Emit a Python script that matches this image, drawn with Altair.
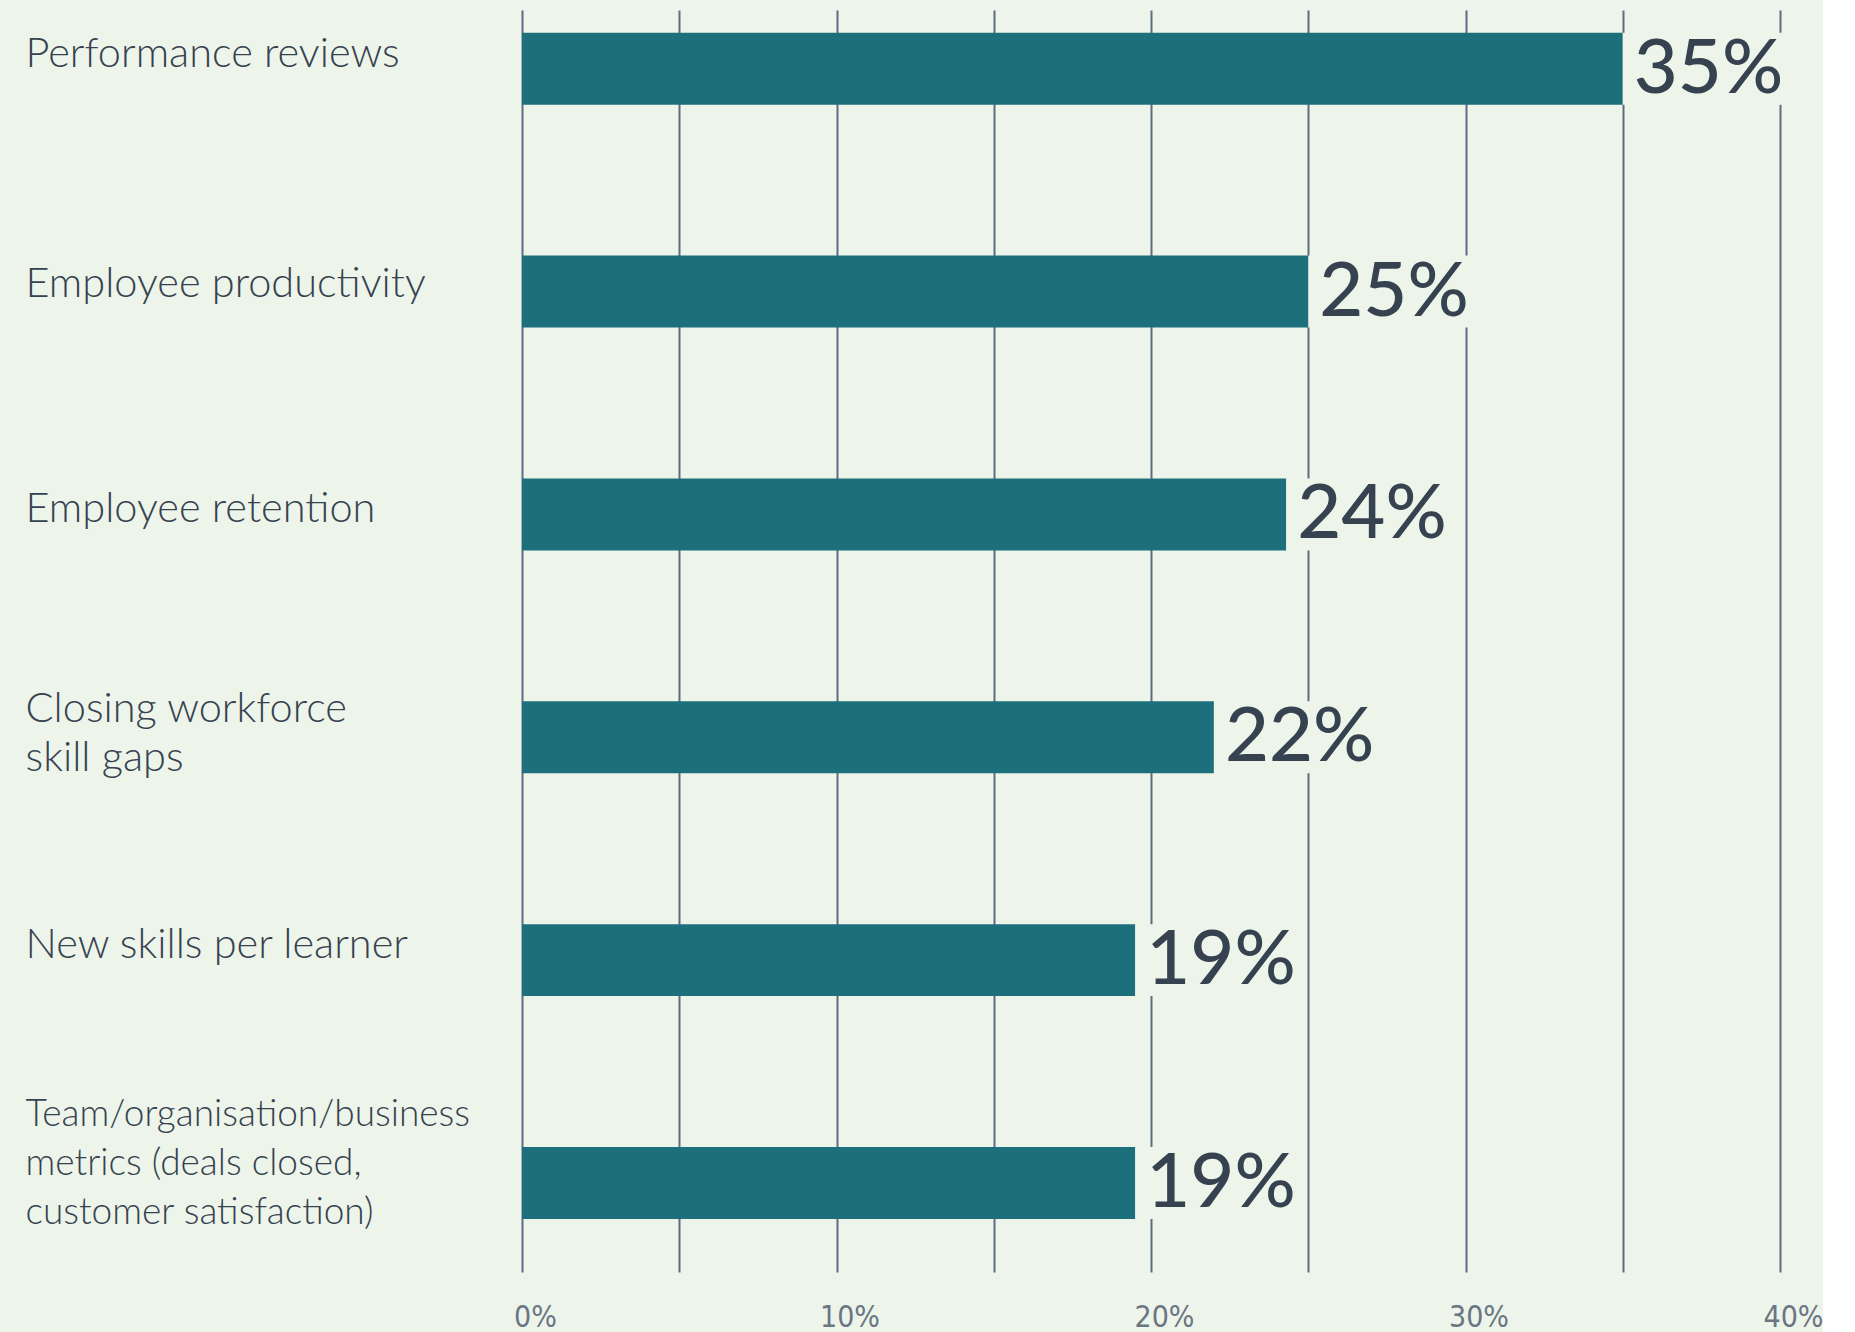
import altair as alt
import pandas as pd

categories = [
    "Performance reviews",
    "Employee productivity",
    "Employee retention",
    "Closing workforce|skill gaps",
    "New skills per learner",
    "Team/organisation/business|metrics (deals closed,|customer satisfaction)",
]
values = [35, 25, 24.3, 22, 19.5, 19.5]
value_labels = ["35%", "25%", "24%", "22%", "19%", "19%"]
grid_values = [0, 5, 10, 15, 20, 25, 30, 35, 40]

BG = "#edf4ea"
BAR = "#1c6f7b"
TEXT = "#36424f"
GRID = "#5d6d80"

df = pd.DataFrame({"category": categories, "value": values, "label": value_labels})

team = categories[5]
offset_cond = {
    "condition": [
        {"test": f"datum.value === '{categories[0]}'", "value": -14},
        {"test": f"datum.value === '{categories[1]}'", "value": -7},
        {"test": f"datum.value === '{categories[2]}'", "value": -4},
        {"test": f"datum.value === '{categories[3]}'", "value": -27},
        {"test": f"datum.value === '{categories[4]}'", "value": -14},
        {"test": f"datum.value === '{team}'", "value": -68},
    ],
    "value": -10,
}
size_cond = {
    "condition": {"test": f"datum.value === '{team}'", "value": 37},
    "value": 41.5,
}

y_enc = alt.Y(
    "category:N",
    sort=None,
    title=None,
    scale=alt.Scale(paddingInner=0.677, paddingOuter=0.17, align=0.30),
    axis=alt.Axis(
        domain=False,
        ticks=False,
        labelAlign="left",
        labelBaseline="middle",
        labelPadding=497,
        labelLimit=0,
        labelFont="Lato",
        labelFontWeight=300,
        labelFontSize=size_cond,
        labelColor=TEXT,
        labelLineHeight=49,
        labelOffset=offset_cond,
        labelExpr="split(datum.label, '|')",
    ),
)

x_scale = alt.Scale(domain=[0, 40], nice=False, zero=True)

bars = alt.Chart(df).mark_bar(color=BAR).encode(
    x=alt.X(
        "value:Q",
        scale=x_scale,
        title=None,
        axis=alt.Axis(
            values=grid_values,
            domain=False,
            ticks=False,
            grid=True,
            gridColor=GRID,
            gridWidth=2,
            gridOpacity=1,
            labelExpr="datum.value % 10 === 0 ? datum.value + '%' : ''",
            labelFont="Liberation Sans Narrow, DejaVu Sans Condensed, sans-serif",
            labelFontWeight=300,
            labelFontSize=30,
            labelColor="#6a7684",
            labelPadding=30,
            labelOffset=13,
            labelAlign="center",
            labelBaseline="top",
        ),
    ),
    y=y_enc,
)

cover = (
    alt.Chart(df)
    .transform_calculate(cover_end="datum.value + 5.2")
    .mark_bar(color=BG)
    .encode(
        x=alt.X("value:Q", scale=x_scale),
        x2="cover_end:Q",
        y=alt.Y("category:N", sort=None),
    )
)

texts = alt.Chart(df).mark_text(
    align="left",
    baseline="alphabetic",
    dx=11,
    dy=24,
    font="Lato",
    fontWeight=500,
    fontSize=76,
    color=TEXT,
).encode(
    x=alt.X("value:Q", scale=x_scale),
    y=alt.Y("category:N", sort=None),
    text="label:N",
)

chart = (
    alt.layer(bars, cover, texts)
    .properties(
        width=1258,
        height=1262,
        background=BG,
        padding={"left": 25, "top": 10, "right": 0, "bottom": 0},
    )
    .configure_view(stroke=None)
)

chart.save("out.html", embed_options={"renderer": "svg", "actions": False})
